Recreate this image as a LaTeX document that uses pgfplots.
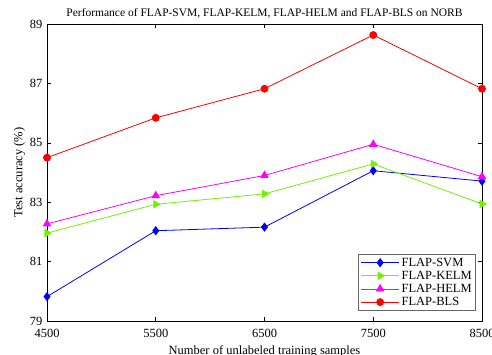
\documentclass[border=0pt]{standalone}
\usepackage{fontspec}
\setmainfont{Liberation Serif}
\usepackage{pgfplots}
\pgfplotsset{compat=1.18}
\definecolor{cBlue}{rgb}{0,0,1}
\definecolor{cGreen}{rgb}{0.45,0.95,0}
\definecolor{cMag}{rgb}{1,0,1}
\definecolor{cRed}{rgb}{1,0,0}
\begin{document}
\begin{tikzpicture}
\begin{axis}[
  scale only axis,
  width=435pt, height=297pt,
  xmin=4500, xmax=8500, ymin=79, ymax=89,
  xtick={4500,5500,6500,7500,8500},
  ytick={79,81,83,85,87,89},
  tick align=inside,
  major tick length=4pt,
  tick style={black, line width=0.6pt},
  axis line style={line width=0.6pt},
  /pgf/number format/assume math mode=true,
  /pgf/number format/1000 sep={},
  tick label style={font=\fontsize{12.5}{13}\selectfont},
  xticklabel style={yshift=-5pt},
  yticklabel style={xshift=-1pt},
  title={Performance of FLAP-SVM, FLAP-KELM, FLAP-HELM and FLAP-BLS on NORB},
  title style={font=\fontsize{11.5}{12}\selectfont, yshift=-4pt},
  xlabel={Number of unlabeled training samples},
  ylabel={Test accuracy (\%)},
  label style={font=\fontsize{12.5}{13}\selectfont},
  xlabel style={yshift=-1pt},
  ylabel style={yshift=-2pt},
  legend cell align=left,
  legend style={at={(0.9855,0.037)}, anchor=south east, font=\fontsize{12.5}{13}\selectfont,
    outer sep=0pt, draw=black!60, line width=0.6pt, inner xsep=2pt, inner ysep=1pt, row sep=-0.6pt},
  legend image code/.code={
    \draw[mark repeat=2,mark phase=2] plot coordinates {(0pt,0pt) (19pt,0pt) (38pt,0pt)};
  },
]
\addplot[cBlue, line width=0.8pt, mark=diamond*, mark size=4pt, mark options={fill=cBlue}]
  coordinates {(4500,79.82) (5500,82.04) (6500,82.16) (7500,84.06) (8500,83.71)};
\addlegendentry{FLAP-SVM}
\addplot[cGreen, line width=0.8pt, mark=triangle*, mark size=4.2pt, mark options={rotate=-90, fill=cGreen}]
  coordinates {(4500,81.96) (5500,82.93) (6500,83.28) (7500,84.29) (8500,82.94)};
\addlegendentry{FLAP-KELM}
\addplot[cMag, line width=0.8pt, mark=triangle*, mark size=4.2pt, mark options={fill=cMag}]
  coordinates {(4500,82.27) (5500,83.22) (6500,83.90) (7500,84.95) (8500,83.86)};
\addlegendentry{FLAP-HELM}
\addplot[cRed, line width=0.8pt, mark=*, mark size=3.5pt, mark options={fill=cRed}]
  coordinates {(4500,84.50) (5500,85.84) (6500,86.82) (7500,88.63) (8500,86.82)};
\addlegendentry{FLAP-BLS}
\coordinate (bbll) at (rel axis cs:0,0);
\coordinate (bbur) at (rel axis cs:1,1);
\end{axis}
\pgfresetboundingbox
\useasboundingbox ([xshift=-47pt,yshift=-33pt]bbll) rectangle ([xshift=10pt,yshift=24pt]bbur);
\end{tikzpicture}
\end{document}
